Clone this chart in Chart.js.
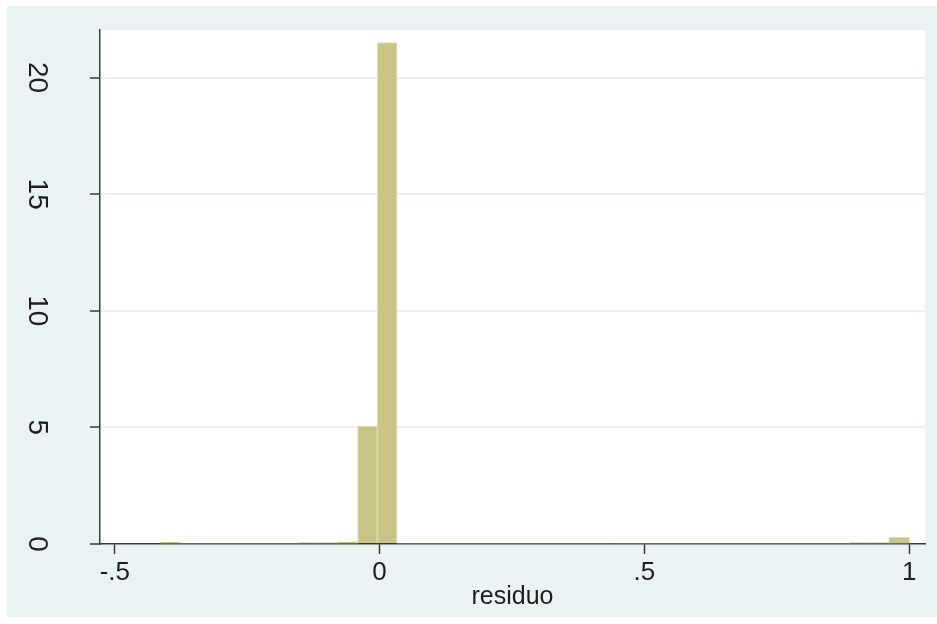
<!DOCTYPE html>
<html>
<head>
<meta charset="utf-8">
<script src="https://cdn.jsdelivr.net/npm/chart.js@4.4.1/dist/chart.umd.min.js"></script>
<style>
  html, body { margin: 0; background: #fff; }
  #wrap { width: 937px; height: 624px; }
</style>
</head>
<body>
<div id="wrap"><canvas id="hist"></canvas></div>
<script>
// histogram of residuo: 38 equal-width bins, density scale
const BIN_START = -0.4135;
const BIN_WIDTH = 0.0372;
const DENSITY = [
  0.07, 0, 0, 0, 0, 0, 0, 0.05, 0.05, 0.08,
  5.05, 21.5, 0, 0, 0, 0, 0, 0, 0, 0,
  0, 0, 0, 0, 0, 0, 0, 0, 0, 0,
  0, 0, 0, 0, 0, 0.05, 0.05, 0.27
];

const X_TICKS  = [-0.5, 0, 0.5, 1];
const X_LABELS = ['-.5', '0', '.5', '1'];
const Y_TICKS  = [0, 5, 10, 15, 20];
const X_TITLE  = 'residuo';

const X_MIN = -0.528, X_MAX = 1.03;
const Y_MAX = 22.04;

const FAMILY = '"Liberation Sans", Arial, sans-serif';
const INK = '#1e1e1e';
const AXIS = '#3a3a3a';
const REGION = '#eaf2f3';

const points = DENSITY.map((d, i) => ({ x: BIN_START + BIN_WIDTH * (i + 0.5), y: d }));

// graph region + white plot region behind everything
const panelBg = {
  id: 'panelBg',
  beforeDraw(chart) {
    const { ctx, chartArea: a, width, height } = chart;
    ctx.save();
    ctx.fillStyle = '#fff';
    ctx.fillRect(0, 0, width, height);
    ctx.fillStyle = REGION;
    ctx.fillRect(7, 6, width - 7, height - 13);
    ctx.fillStyle = '#fff';
    ctx.fillRect(a.left, a.top, a.right - a.left, a.bottom - a.top);
    ctx.restore();
  }
};

new Chart(document.getElementById('hist'), {
  type: 'bar',
  data: {
    datasets: [{
      data: points,
      backgroundColor: 'rgb(202,195,134)',
      borderColor: 'rgb(221,217,172)',
      borderWidth: c => (c.raw && c.raw.y > 0.5 ? 1.2 : 0),
      borderSkipped: 'start',
      categoryPercentage: 1,
      barPercentage: 1
    }]
  },
  options: {
    responsive: true,
    maintainAspectRatio: false,
    animation: false,
    layout: { padding: { top: 30, right: 12, left: 0, bottom: 0 } },
    plugins: { legend: { display: false }, tooltip: { enabled: false } },
    scales: {
      x: {
        type: 'linear',
        min: X_MIN,
        max: X_MAX,
        offset: false,
        afterFit(s) {
          s.height = 80;
          s.paddingLeft = 0;
          s.paddingRight = 0;
        },
        afterBuildTicks(s) { s.ticks = X_TICKS.map(v => ({ value: v })); },
        ticks: {
          callback: (v, i) => X_LABELS[i],
          minRotation: 0, maxRotation: 0,
          padding: 3,
          color: INK,
          font: { family: FAMILY, size: 26 }
        },
        grid: { offset: false, drawOnChartArea: false, tickLength: 10, tickColor: AXIS, tickWidth: 1.5 },
        border: { color: AXIS, width: 1.5 },
        title: {
          display: true, text: X_TITLE, color: INK,
          font: { family: FAMILY, size: 25 },
          padding: { top: 0, bottom: 12 }
        }
      },
      y: {
        min: 0,
        max: Y_MAX,
        afterFit(s) {
          s.width = 100;
          s.paddingTop = 0;
          s.paddingBottom = 0;
        },
        afterBuildTicks(s) { s.ticks = Y_TICKS.map(v => ({ value: v })); },
        ticks: {
          minRotation: -90, maxRotation: -90,
          crossAlign: 'center',
          padding: 38,
          color: INK,
          font: { family: FAMILY, size: 28 }
        },
        grid: {
          color: c => (c.tick && c.tick.value === 0 ? 'rgba(0,0,0,0)' : REGION),
          lineWidth: 2,
          tickLength: 10,
          tickColor: AXIS,
          tickWidth: 1.5
        },
        border: { color: AXIS, width: 1.5 }
      }
    }
  },
  plugins: [panelBg]
});
</script>
</body>
</html>
